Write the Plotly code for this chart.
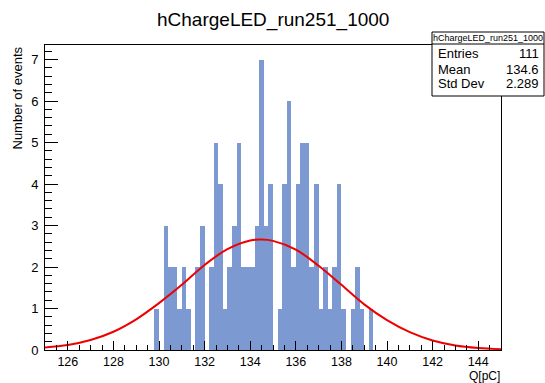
import plotly.graph_objects as go

# ---- data ----
hist_title = "hChargeLED_run251_1000"
bin_width = 0.2
first_bin_low = 129.8
counts = [1, 0, 3, 2, 2, 1, 2, 1, 0, 2, 3, 0, 2, 5, 4, 1,
          2, 3, 5, 2, 2, 2, 3, 7, 3, 4, 0, 1, 4, 6, 2, 4,
          5, 5, 2, 4, 1, 2, 1, 2, 4, 1, 0, 1, 2, 1, 0, 1]
fit_x = [125, 126, 127, 128, 129, 130, 131, 132, 133, 134, 134.5, 135,
         136, 137, 138, 139, 140, 141, 142, 143, 144, 145]
fit_y = [0.06, 0.12, 0.24, 0.44, 0.74, 1.13, 1.57, 2.05, 2.43, 2.64, 2.66, 2.63,
         2.42, 2.03, 1.57, 1.10, 0.72, 0.43, 0.23, 0.11, 0.05, 0.02]
stat_names = ["Entries", "Mean", "Std Dev"]
stat_values = ["111", "134.6", "2.289"]
x_range = [125, 145]
y_range = [0, 7.35]

bin_centers = [first_bin_low + bin_width * (i + 0.5) for i in range(len(counts))]

W, H = 545, 383
L, R, T, B = 45, 44, 45, 33
PW, PH = W - L - R, H - T - B


def px(xp):
    return (xp - L) / PW


def py(yp):
    return (H - B - yp) / PH


FONT = "Liberation Sans, Arial, Helvetica, sans-serif"

fig = go.Figure()
fig.add_trace(go.Bar(x=bin_centers, y=counts, width=bin_width,
                     marker=dict(color="#7D99D1", line=dict(width=0)),
                     hoverinfo="skip"))
fig.add_trace(go.Scatter(x=fit_x, y=fit_y, mode="lines",
                         line=dict(color="#ee0000", width=2, shape="spline"),
                         hoverinfo="skip"))

annotations = [
    dict(text=hist_title, x=px(273), y=py(20), xref="paper", yref="paper",
         showarrow=False, font=dict(family=FONT, size=19, color="black"),
         xanchor="center", yanchor="middle"),
    dict(text="Number of events", x=px(17), y=py(45), xref="paper", yref="paper",
         showarrow=False, textangle=-90, font=dict(family=FONT, size=13, color="black"),
         xanchor="center", yanchor="top"),
    dict(text="Q[pC]", x=px(501), y=py(384), xref="paper", yref="paper",
         showarrow=False, font=dict(family=FONT, size=12, color="black"),
         xanchor="right", yanchor="bottom", borderpad=0),
    dict(text=hist_title, x=px(488), y=py(38), xref="paper", yref="paper",
         showarrow=False, font=dict(family=FONT, size=9, color="black"),
         xanchor="center", yanchor="middle"),
]
row_y = [54, 69, 84]
for name, val, ry in zip(stat_names, stat_values, row_y):
    annotations.append(dict(text=name, x=px(436), y=py(ry), xref="paper", yref="paper",
                            showarrow=False, font=dict(family=FONT, size=13, color="black"),
                            xanchor="left", yanchor="middle"))
    annotations.append(dict(text=val, x=px(541), y=py(ry), xref="paper", yref="paper",
                            showarrow=False, font=dict(family=FONT, size=13, color="black"),
                            xanchor="right", yanchor="middle"))

shapes = [
    dict(type="rect", xref="paper", yref="paper", x0=px(432), x1=px(544),
         y0=py(96), y1=py(32), fillcolor="white", line=dict(color="black", width=1),
         layer="above"),
    dict(type="line", xref="paper", yref="paper", x0=px(432), x1=px(544),
         y0=py(44), y1=py(44), line=dict(color="black", width=1), layer="above"),
]

fig.update_layout(
    width=W, height=H,
    margin=dict(l=L, r=R, t=T, b=B, pad=0),
    paper_bgcolor="white", plot_bgcolor="white",
    showlegend=False, bargap=0,
    font=dict(family=FONT, size=13, color="black"),
    annotations=annotations, shapes=shapes,
    xaxis=dict(range=x_range, dtick=2, tick0=0, ticks="inside", ticklen=9,
               tickcolor="black", tickwidth=1, showline=True, linecolor="black",
               linewidth=1, mirror=True, showgrid=False, zeroline=False,
               ticklabelstandoff=0,
               tickfont=dict(family=FONT, size=12.5, color="black"),
               minor=dict(dtick=0.5, ticks="inside", ticklen=5, tickcolor="black",
                          tickwidth=1, showgrid=False)),
    yaxis=dict(range=y_range, dtick=1, tick0=0, ticks="inside", ticklen=13,
               tickcolor="black", tickwidth=1, showline=True, linecolor="black",
               linewidth=1, mirror=True, showgrid=False, zeroline=False,
               ticklabelstandoff=3,
               tickfont=dict(family=FONT, size=13, color="black"),
               minor=dict(dtick=0.2, ticks="inside", ticklen=7, tickcolor="black",
                          tickwidth=1, showgrid=False)),
)

fig.write_html("out.html")
